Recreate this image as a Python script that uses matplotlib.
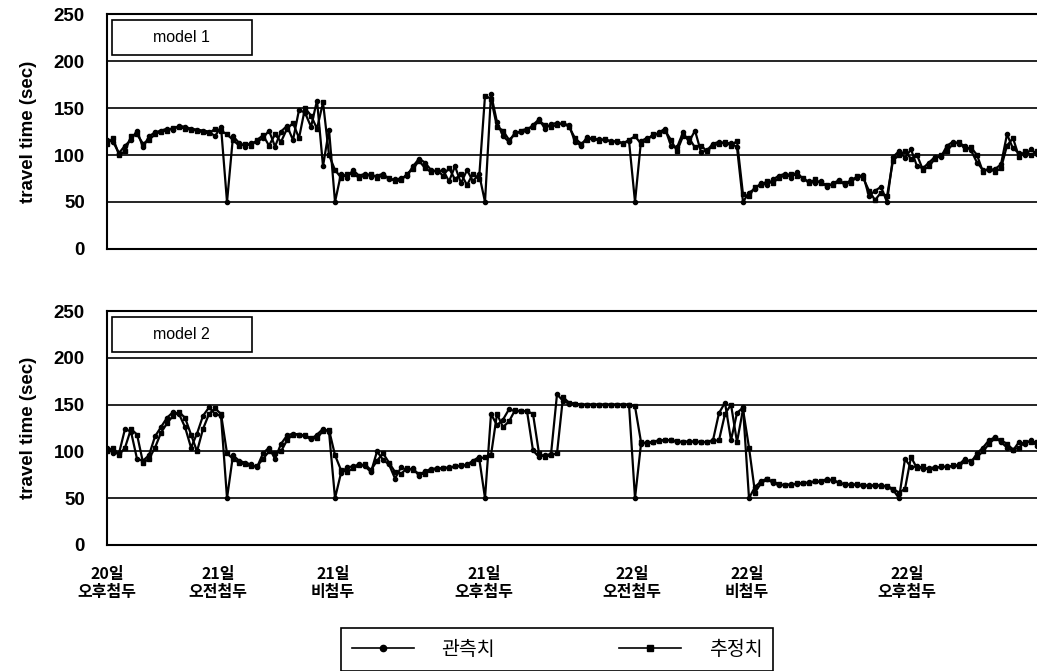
import matplotlib
matplotlib.use("Agg")
import matplotlib.pyplot as plt
from matplotlib.lines import Line2D
from matplotlib.patches import Rectangle

plt.rcParams['font.family'] = ['Liberation Sans', 'Noto Sans CJK KR', 'DejaVu Sans']

# sample index along the three days
t = list(range(156))

# model 1: observed / estimated travel time (sec)
obs1 = [116, 114, 102, 110, 116, 126, 108, 120, 124, 126,
        128, 127, 131, 130, 128, 127, 126, 125, 120, 130,
        50, 120, 113, 109, 113, 114, 118, 126, 109, 125,
        131, 116, 148, 145, 130, 158, 88, 127, 50, 80,
        76, 84, 78, 80, 77, 78, 80, 74, 74, 75,
        78, 88, 96, 92, 84, 82, 84, 72, 88, 70,
        84, 72, 80, 50, 165, 135, 120, 114, 124, 124,
        126, 132, 138, 128, 133, 134, 133, 132, 114, 110,
        119, 117, 117, 116, 115, 114, 113, 115, 50, 115,
        118, 120, 124, 128, 110, 108, 124, 114, 126, 103,
        105, 112, 114, 112, 113, 108, 50, 60, 64, 70,
        68, 74, 78, 80, 76, 82, 74, 72, 70, 72,
        66, 70, 73, 68, 74, 76, 79, 56, 62, 66,
        50, 98, 104, 97, 106, 88, 86, 92, 98, 98,
        110, 114, 112, 110, 105, 92, 84, 84, 85, 90,
        122, 107, 102, 100, 106, 101]
est1 = [112, 118, 100, 104, 120, 122, 112, 116, 122, 125,
        126, 129, 130, 128, 127, 126, 124, 123, 128, 126,
        122, 116, 110, 112, 110, 116, 121, 110, 122, 114,
        128, 134, 118, 150, 142, 128, 156, 100, 84, 76,
        80, 80, 76, 78, 80, 76, 78, 76, 72, 73,
        80, 85, 94, 86, 82, 84, 78, 86, 74, 80,
        68, 80, 74, 163, 160, 130, 126, 116, 122, 126,
        128, 130, 136, 132, 130, 132, 134, 130, 118, 112,
        116, 118, 115, 117, 114, 115, 112, 116, 120, 112,
        116, 122, 122, 126, 116, 104, 120, 118, 108, 110,
        104, 110, 112, 114, 110, 115, 58, 56, 66, 68,
        72, 70, 76, 78, 80, 78, 76, 70, 74, 70,
        68, 68, 72, 70, 70, 78, 76, 62, 52, 60,
        56, 94, 100, 104, 96, 100, 84, 88, 96, 100,
        104, 112, 114, 106, 108, 100, 82, 86, 82, 86,
        110, 118, 98, 104, 100, 104]

# model 2: observed / estimated travel time (sec)
obs2 = [104, 98, 98, 124, 121, 92, 90, 96, 116, 126,
        136, 142, 140, 126, 104, 119, 138, 147, 140, 138,
        50, 96, 90, 88, 86, 83, 98, 104, 92, 108,
        117, 119, 118, 116, 113, 118, 124, 121, 50, 77,
        83, 84, 86, 84, 78, 100, 91, 86, 71, 83,
        80, 82, 74, 79, 81, 82, 82, 83, 84, 84,
        86, 90, 94, 50, 140, 128, 134, 145, 143, 143,
        143, 101, 94, 96, 97, 161, 154, 151, 151, 150,
        150, 150, 150, 150, 150, 150, 150, 150, 50, 108,
        110, 110, 112, 112, 112, 110, 110, 111, 110, 110,
        110, 112, 141, 152, 112, 141, 147, 50, 62, 68,
        71, 66, 64, 64, 65, 65, 66, 67, 68, 67,
        71, 68, 67, 64, 65, 64, 63, 64, 63, 64,
        62, 59, 50, 92, 83, 84, 81, 82, 83, 83,
        84, 84, 86, 92, 88, 98, 104, 112, 115, 110,
        104, 101, 110, 108, 112, 106]
est2 = [100, 104, 96, 104, 124, 118, 88, 92, 104, 120,
        130, 138, 142, 136, 118, 100, 124, 140, 146, 140,
        98, 92, 88, 86, 84, 84, 92, 100, 98, 100,
        112, 118, 118, 117, 114, 114, 122, 123, 96, 80,
        78, 82, 85, 86, 80, 90, 98, 88, 78, 76,
        82, 80, 76, 76, 80, 81, 82, 82, 84, 85,
        85, 88, 92, 94, 96, 140, 126, 132, 144, 143,
        143, 140, 98, 94, 96, 98, 158, 152, 151, 150,
        150, 150, 150, 150, 150, 150, 150, 150, 148, 110,
        108, 110, 111, 112, 112, 111, 110, 110, 111, 110,
        110, 111, 112, 140, 150, 110, 145, 104, 56, 66,
        70, 68, 65, 64, 64, 66, 66, 66, 68, 68,
        69, 70, 66, 65, 64, 65, 64, 63, 64, 63,
        63, 60, 56, 60, 94, 82, 84, 80, 82, 84,
        83, 85, 84, 90, 90, 94, 100, 108, 114, 112,
        108, 102, 104, 110, 110, 110]

tick_pos = [0, 18.5, 37.7, 62.8, 87.5, 106.7, 133.3]
tick_labels = ['20일\n오후첨두', '21일\n오전첨두', '21일\n비첨두', '21일\n오후첨두',
               '22일\n오전첨두', '22일\n비첨두', '22일\n오후첨두']
panel_names = ['model 1', 'model 2']
legend_labels = ['관측치', '추정치']

fig = plt.figure(figsize=(10.37, 6.71), dpi=100)
ax1 = fig.add_axes([0.1032, 0.629, 0.8968, 0.350])
ax2 = fig.add_axes([0.1032, 0.1878, 0.8968, 0.3487])

for ax, obs, est, name in [(ax1, obs1, est1, panel_names[0]),
                           (ax2, obs2, est2, panel_names[1])]:
    ax.plot(t, obs, color='black', lw=1.6, marker='o', ms=3)
    ax.plot(t, est, color='black', lw=1.6, marker='s', ms=3)
    ax.set_xlim(0, 155)
    ax.set_ylim(0, 250)
    ax.set_yticks([0, 50, 100, 150, 200, 250])
    for y in [50, 100, 150, 200]:
        ax.axhline(y, color='black', lw=1.2, zorder=0)
    ax.spines['right'].set_visible(False)
    for s in ['left', 'top', 'bottom']:
        ax.spines[s].set_linewidth(1.5)
    ax.tick_params(axis='y', length=0, pad=16, labelsize=13.5)
    for lbl in ax.get_yticklabels():
        lbl.set_fontweight('bold')
    ax.set_ylabel('travel time (sec)', fontsize=13.5, fontweight='bold', labelpad=12)
    # boxed model name in the upper left corner
    ax.add_patch(Rectangle((0.0054, 0.825), 0.151, 0.148, transform=ax.transAxes,
                           fill=True, facecolor='white', edgecolor='black', lw=1.2, zorder=5))
    ax.text(0.08, 0.899, name, transform=ax.transAxes, ha='center', va='center',
            fontsize=11.5, zorder=6)

ax1.set_xticks([])
ax2.set_xticks(tick_pos)
ax2.set_xticklabels(tick_labels, fontsize=11.5, fontweight='bold',
                    family=['Noto Sans CJK KR'], linespacing=1.15)
ax2.tick_params(axis='x', length=0, pad=15)

handles = [Line2D([], [], color='black', lw=1.2, marker='o', ms=4.5),
           Line2D([], [], color='black', lw=1.2, marker='s', ms=4.5)]
leg = fig.legend(handles, legend_labels, loc='center', bbox_to_anchor=(0.537, 0.032),
                 ncol=2, fancybox=False, edgecolor='black', framealpha=1,
                 handlelength=3.2, columnspacing=6.4, handletextpad=1.4,
                 prop={'family': 'Noto Sans CJK KR', 'size': 14},
                 borderpad=0.55, borderaxespad=0)
leg.get_frame().set_linewidth(1.2)

fig.savefig('out.png', dpi=100)
